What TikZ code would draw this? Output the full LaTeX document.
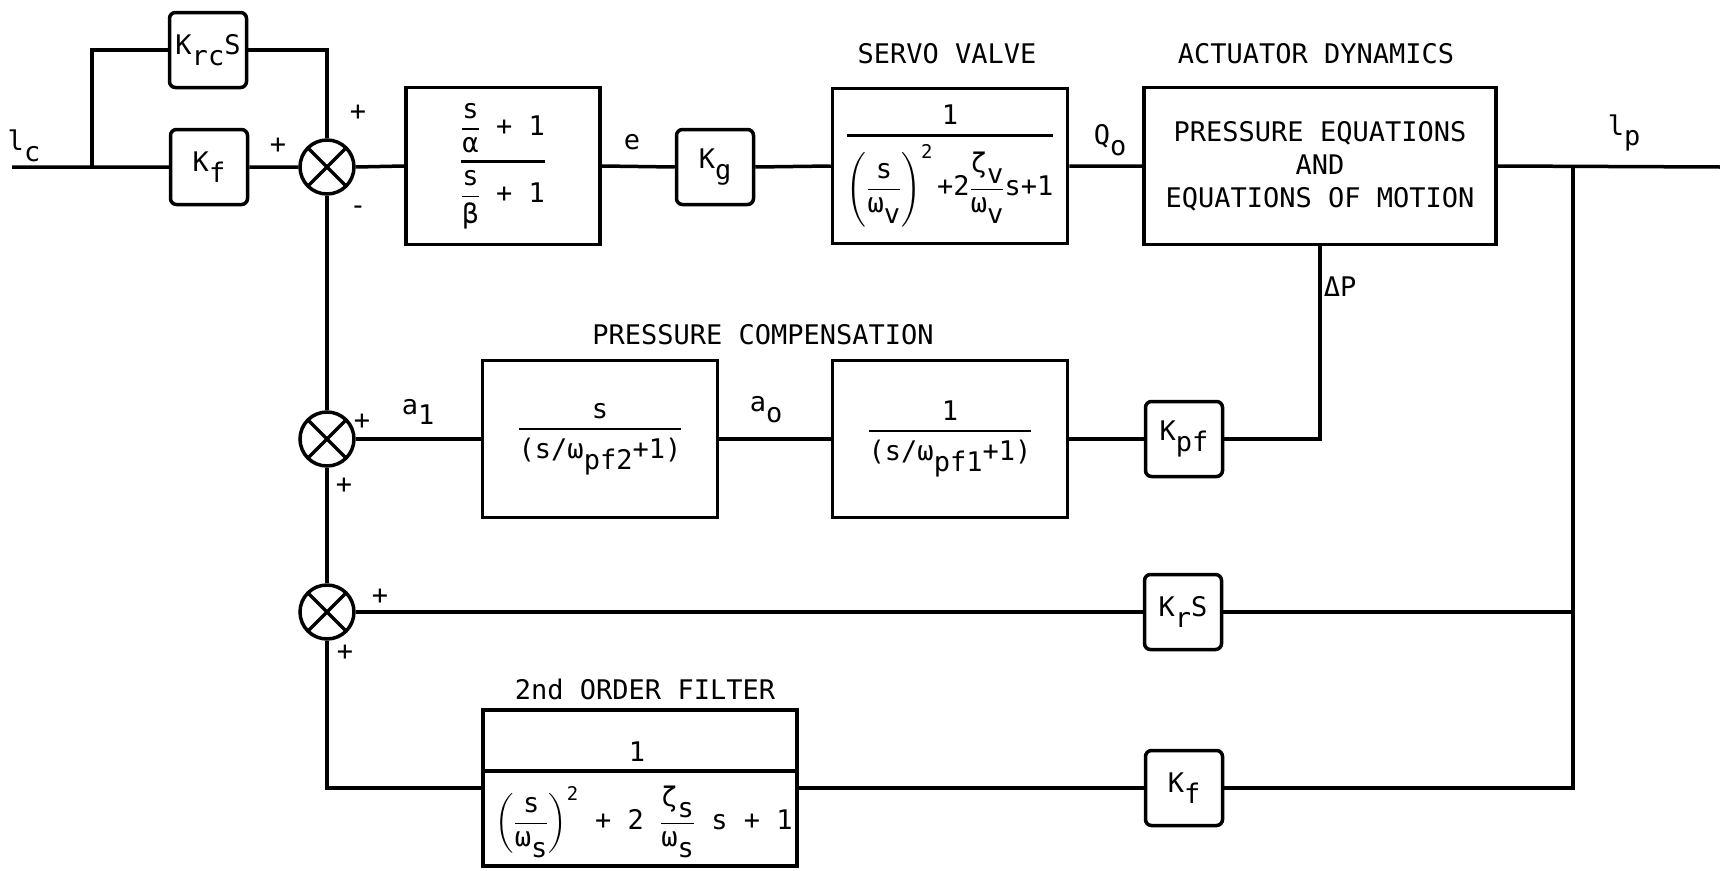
\documentclass[tikz,border=0pt]{standalone}
\usepackage{amsmath}
\usepackage{fontspec}
\setmainfont{DejaVu Sans Mono}

\newcommand{\lowsub}[1]{\raisebox{-0.4em}{#1}}
\newcommand{\tx}[1]{\text{#1}}
\newcommand{\bigfr}[2]{\genfrac{}{}{2.6pt}{0}{#1}{#2}}
\newcommand{\smfr}[2]{\genfrac{}{}{1.6pt}{0}{#1}{#2}}

\begin{document}
\begin{tikzpicture}[x=1pt, y=-1pt, line width=3.5pt,
    font=\fontsize{27}{33}\selectfont,
    blk/.style={rectangle, draw, inner sep=0pt, minimum width=235pt, minimum height=157pt},
    gain/.style={rectangle, rounded corners=6pt, draw, inner sep=0pt, minimum width=77pt, minimum height=75pt},
    sumj/.style={circle, draw, inner sep=0pt, minimum size=54pt,
        path picture={\draw (path picture bounding box.north west) -- (path picture bounding box.south east)
            (path picture bounding box.north east) -- (path picture bounding box.south west);}},
    sgn/.style={inner sep=0pt}]
    \useasboundingbox (0,0) rectangle (1720,870);

    % forward path
    \node (krc) [gain] at (208,50) {K\lowsub{rc}S};
    \node (kf) [gain] at (209,167) {K\lowsub{f}};
    \node (s1) [sumj] at (327,167) {};
    \node (lead) [blk, minimum width=194pt] at (503,166) {$\bigfr{\smfr{\tx{s}}{\tx{α}}\tx{ + 1}}{\smfr{\tx{s}}{\tx{β}}\tx{ + 1}}$};
    \node (kg) [gain] at (715,167) {K\lowsub{g}};
    \node (sv) [blk, minimum height=155pt] at (950,166) {$\bigfr{\tx{1}}{\left(\smfr{\tx{s}}{\tx{ω\lowsub{v}}}\right)^{\tx{2}}\tx{+2}\smfr{\tx{ζ\lowsub{v}}}{\tx{ω\lowsub{v}}}\tx{s+1}}$};
    \node (act) [blk, minimum width=352pt, align=center] at (1320,166) {PRESSURE EQUATIONS\\AND\\EQUATIONS OF MOTION};

    \coordinate (in) at (12,167);
    \coordinate (fork) at (92,167);
    \coordinate (tap) at (1573,167);
    \coordinate (out) at (1720,167);

    % pressure feedback
    \node (kpf) [gain] at (1184,439) {K\lowsub{pf}};
    \node (pc2) [blk] at (950,439) {$\bigfr{\tx{1}}{\tx{(s/ω\lowsub{pf1}+1)}}$};
    \node (pc1) [blk] at (600,439) {$\bigfr{\tx{s}}{\tx{(s/ω\lowsub{pf2}+1)}}$};
    \node (s2) [sumj] at (327,439) {};

    % rate and position feedback
    \node (s3) [sumj] at (327,612) {};
    \node (kr) [gain] at (1183,612) {K\lowsub{r}S};
    \node (filt) [blk, minimum width=314pt, minimum height=156pt] at (640,788) {};
    \coordinate (fbar) at (640,771);
    \node (fnum) at (637,752) {1};
    \node (fden) at (644,822) {$\biggl(\smfr{\tx{s}}{\tx{ω\lowsub{s}}}\biggr)^{\tx{2}}\tx{ + 2 }\smfr{\tx{ζ\lowsub{s}}}{\tx{ω\lowsub{s}}}\tx{ s + 1}$};
    \node (kf2) [gain] at (1184,788) {K\lowsub{f}};

    \draw (in) -- (kf.west) (kf.east) -- (s1.west) (s1.east) -- (lead.west)
        (lead.east) -- (kg.west) (kg.east) -- (sv.west) (sv.east) -- (act.west) (act.east) -- (out);
    \draw (fork) |- (krc.west);
    \draw (krc.east) -| (s1.north);
    \draw (act.south) |- (kpf.east);
    \draw (kpf.west) -- (pc2.east) (pc2.west) -- (pc1.east) (pc1.west) -- (s2.east);
    \draw (s1.south) -- (s2.north) (s2.south) -- (s3.north);
    \draw (tap) |- (kr.east);
    \draw (kr.west) -- (s3.east);
    \draw (tap) |- (kf2.east);
    \draw (kf2.west) -- (filt.east);
    \draw (s3.south) |- (filt.west);
    \draw (filt.west |- fbar) -- (filt.east |- fbar);

    % signal names
    \node (lc) at (24,146) {l\lowsub{c}};
    \node (e) at (632,142) {e};
    \node (qo) at (1110,140) {Q\lowsub{o}};
    \node (lp) at (1624,133) {l\lowsub{p}};
    \node (dp) at (1340,287) {ΔP};
    \node (a1) at (418,412) {a\lowsub{1}};
    \node (ao) at (766,410) {a\lowsub{o}};

    % titles
    \node (tsv) at (947,54) {SERVO VALVE};
    \node (tact) at (1316,54) {ACTUATOR DYNAMICS};
    \node (tpc) at (763,335) {PRESSURE COMPENSATION};
    \node (tflt) at (645,689) {2nd ORDER FILTER};

    % summing signs
    \node (p1a) [sgn] at (358,113) {+};
    \node (p1b) [sgn] at (278,146) {+};
    \node (m1) [sgn] at (358,210) {-};
    \node (p2a) [sgn] at (362,422) {+};
    \node (p2b) [sgn] at (344,486) {+};
    \node (p3a) [sgn] at (380,597) {+};
    \node (p3b) [sgn] at (345,653) {+};
\end{tikzpicture}
\end{document}
